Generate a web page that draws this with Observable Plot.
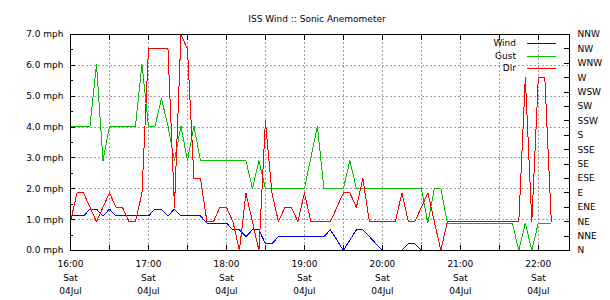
<!DOCTYPE html>
<html>
<head>
<meta charset="utf-8">
<script src="https://cdn.jsdelivr.net/npm/d3@7"></script>
<script src="https://cdn.jsdelivr.net/npm/@observablehq/plot@0.6"></script>
<style>
  body { margin: 0; background: #fff; }
  svg { display: block; }
</style>
</head>
<body>
<div id="chart"></div>
<script>
// Station readings, one every five minutes from 16:00 on Saturday 4 July.
const title = "ISS Wind :: Sonic Anemometer";
const start = new Date(2020, 6, 4, 16, 0);
const stepMinutes = 5;

// Average wind speed, mph
const wind = [
  1.12, 1.12, 1.12, 1.34, 1.34, 1.12, 1.34, 1.12, 1.12, 1.12, // 16:00-16:45
  1.12, 1.12, 1.12, 1.34, 1.34, 1.12, 1.34, 1.12, 1.12, 1.12, // 16:50-17:35
  1.12, 0.89, 0.89, 0.89, 0.89, 0.67, 0.67, 0.45, 0.67, 0.67, // 17:40-18:25
  0.22, 0.22, 0.45, 0.45, 0.45, 0.45, 0.45, 0.45, 0.45, 0.45, // 18:30-19:15
  0.67, 0.34, 0, 0.34, 0.67, 0.67, 0.45, 0.22, 0, 0,          // 19:20-20:05
  0, 0, 0.22, 0.22, 0, 0, 0, 0, 0, 0,                         // 20:10-20:55
  0, 0, 0, 0, 0, 0, 0, 0, 0, 0,                               // 21:00-21:45
  0, 0, 0, 0, 0                                               // 21:50-22:10
];

// Gust speed, mph
const gust = [
  4.03, 4.03, 4.03, 4.03, 6.04, 2.91, 4.03, 4.03, 4.03, 4.03, // 16:00-16:45
  4.03, 6.04, 4.03, 4.03, 4.92, 4.03, 2.91, 4.03, 2.91, 4.03, // 16:50-17:35
  2.91, 2.91, 2.91, 2.91, 2.91, 2.91, 2.91, 2.91, 2.01, 2.91, // 17:40-18:25
  2.01, 2.01, 2.01, 2.01, 2.01, 2.01, 2.01, 3.02, 4.03, 2.01, // 18:30-19:15
  2.01, 2.01, 2.01, 2.91, 2.01, 2.01, 2.01, 2.01, 2.01, 2.01, // 19:20-20:05
  2.01, 2.01, 2.01, 2.01, 2.01, 0.89, 2.01, 2.01, 0.89, 0.89, // 20:10-20:55
  0.89, 0.89, 0.89, 0.89, 0.89, 0.89, 0.89, 0.89, 0.89, 0,    // 21:00-21:45
  0.89, 0, 0.89, 0.89, 0.89                                   // 21:50-22:10
];

// Wind direction, degrees from north
const dir = [
  45, 90, 90, 67.5, 45, 67.5, 90, 67.5, 67.5, 45,             // 16:00-16:45
  45, 90, 315, 315, 315, 315, 67.5, 337.5, 315, 112.5,        // 16:50-17:35
  112.5, 45, 45, 67.5, 67.5, 45, 0, 90, 45, 0,                // 17:40-18:25
  202.5, 90, 45, 67.5, 67.5, 45, 90, 45, 45, 45,              // 18:30-19:15
  45, 67.5, 90, 90, 67.5, 112.5, 45, 45, 45, 45,              // 19:20-20:05
  45, 90, 45, 45, 67.5, 90, 45, 0, 45, 45,                    // 20:10-20:55
  45, 45, 45, 45, 45, 45, 45, 45, 45, 45,                     // 21:00-21:45
  270, 45, 270, 270, 45                                       // 21:50-22:10
];

const compass = ["N", "NNE", "NE", "ENE", "E", "ESE", "SE", "SSE",
                 "S", "SSW", "SW", "WSW", "W", "WNW", "NW", "NNW"];
const speedTicks = [0, 1, 2, 3, 4, 5, 6, 7];
const seriesNames = ["Wind", "Gust", "Dir"];
const seriesColors = ["#0000ff", "#00c000", "#ff0000"];

// The direction axis shares the speed scale: N sits at 0 mph, NNW at the top.
const maxSpeed = 7;
const dirStep = maxSpeed / (compass.length - 1);
const dirToY = d => d / 22.5 * dirStep;

const rows = wind.map((w, i) => ({
  time: new Date(+start + i * stepMinutes * 60000),
  wind: w,
  gust: gust[i],
  dir: dirToY(dir[i])
}));

const xEnd = new Date(+start + 384 * 60000);
const halfHours = d3.timeMinute.every(30).range(start, xEnd);
const hours = d3.timeHour.range(start, xEnd);
const halfSpeeds = d3.range(0.5, maxSpeed, 1);
const gridSpeeds = speedTicks.slice(1, -1);
const compassTicks = compass.map((c, i) => i * dirStep);

const grid = {stroke: "#a0a0a0", strokeOpacity: 1, strokeDasharray: "2,2", shapeRendering: "crispEdges"};
const series = [["wind", 0], ["gust", 1], ["dir", 2]];

const plot = Plot.plot({
  width: 610,
  height: 300,
  marginLeft: 70,
  marginRight: 41,
  marginTop: 34,
  marginBottom: 50,
  style: {fontFamily: "DejaVu Sans", fontSize: "9px", color: "#000", background: "#fff"},
  x: {type: "time", domain: [start, xEnd]},
  y: {domain: [0, maxSpeed]},
  marks: [
    Plot.gridX(halfHours, grid),
    Plot.gridY(gridSpeeds, grid),
    ...series.map(([key, i]) => Plot.line(rows, {
      x: "time", y: key, stroke: seriesColors[i], strokeWidth: 1, shapeRendering: "crispEdges"
    })),
    Plot.frame({stroke: "#000", shapeRendering: "crispEdges"}),
    Plot.axisX(halfHours, {anchor: "bottom", tickSize: -5, tickFormat: () => "", label: null, shapeRendering: "crispEdges"}),
    Plot.axisX(halfHours, {anchor: "top", tickSize: -5, tickFormat: () => "", label: null, shapeRendering: "crispEdges"}),
    Plot.axisY(halfSpeeds, {anchor: "left", tickSize: -3, tickFormat: () => "", label: null, shapeRendering: "crispEdges"}),
    Plot.axisY(speedTicks, {anchor: "left", tickSize: -5, tickPadding: 12, tickFormat: d => d.toFixed(1) + " mph", label: null, shapeRendering: "crispEdges"}),
    Plot.axisY(compassTicks, {anchor: "right", tickSize: -6, tickPadding: 14, tickFormat: d => compass[Math.round(d / dirStep)], label: null, shapeRendering: "crispEdges"}),
    Plot.text(hours, {x: d => d, frameAnchor: "bottom", dy: 16, text: d3.timeFormat("%H:%M")}),
    Plot.text(hours, {x: d => d, frameAnchor: "bottom", dy: 30, text: d3.timeFormat("%a")}),
    Plot.text(hours, {x: d => d, frameAnchor: "bottom", dy: 43, text: d3.timeFormat("%d%b")}),
    Plot.text([title], {frameAnchor: "top", dy: -19, dx: -3})
  ]
});

// Legend in the upper right corner of the frame
const svg = d3.select(plot);
const legend = svg.append("g")
  .attr("font-family", "DejaVu Sans")
  .attr("font-size", 9)
  .attr("shape-rendering", "crispEdges");
seriesNames.forEach((name, i) => {
  const y = 43 + Math.round(i * 12.5);
  legend.append("text")
    .attr("x", 516).attr("y", y).attr("dy", "0.32em")
    .attr("text-anchor", "end").attr("fill", "#000").text(name);
  legend.append("path")
    .attr("d", `M527,${y + 0.5}H556`)
    .attr("fill", "none")
    .attr("stroke", seriesColors[i])
    .attr("stroke-width", 1);
});

document.getElementById("chart").append(plot);
</script>
</body>
</html>
